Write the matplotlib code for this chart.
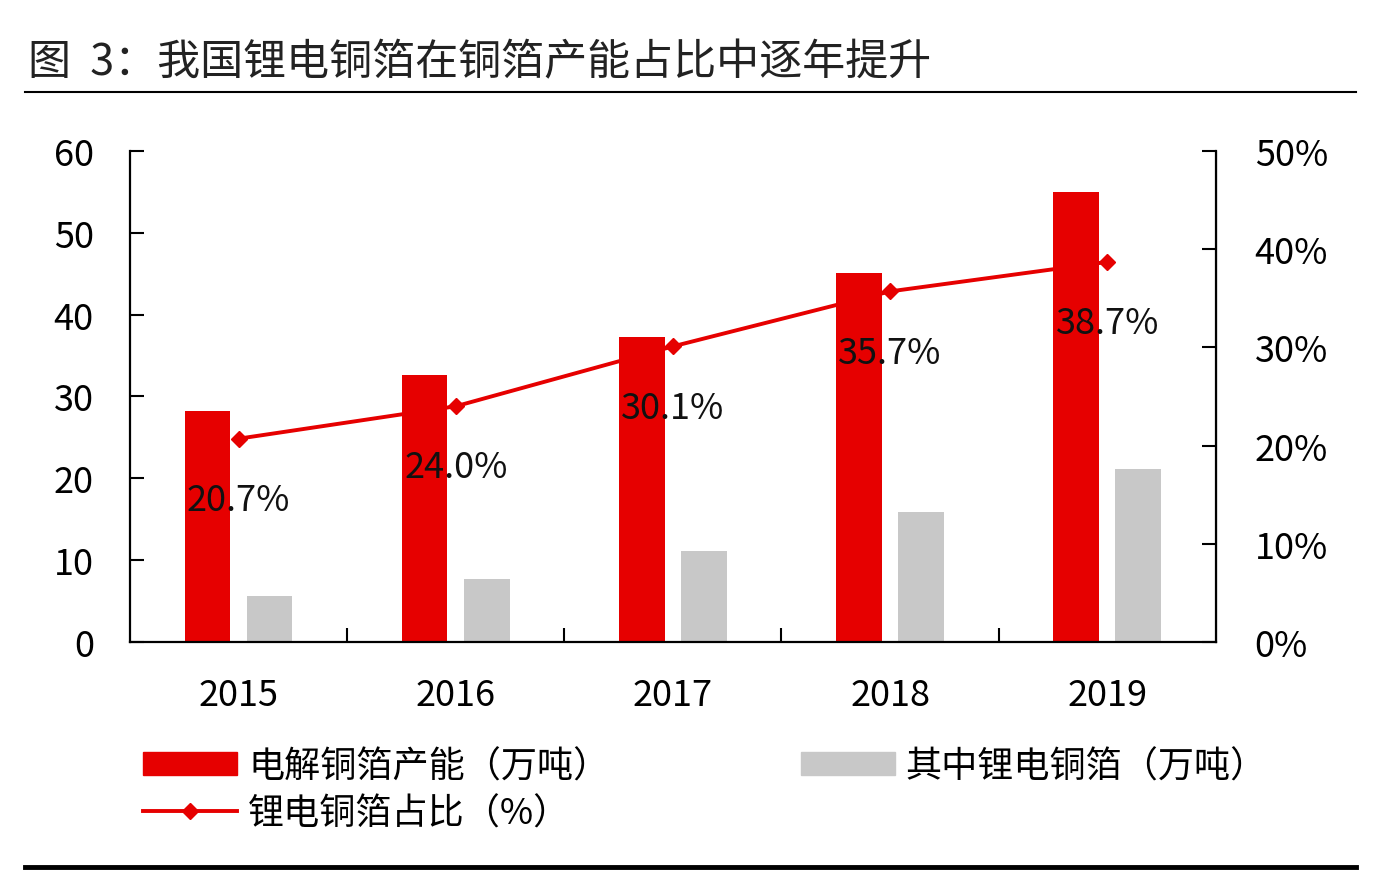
import numpy as np
from matplotlib import pyplot as plt
from matplotlib.lines import Line2D
from matplotlib.patches import Patch
from matplotlib.ticker import PercentFormatter

plt.rcParams['font.family'] = ['Noto Sans CJK SC', 'DejaVu Sans']

years = ['2015', '2016', '2017', '2018', '2019']
capacity = [28.2, 32.6, 37.3, 45.1, 55.0]      # 电解铜箔产能（万吨）
lib_foil = [5.6, 7.7, 11.1, 15.9, 21.1]        # 其中锂电铜箔（万吨）
share = [20.7, 24.0, 30.1, 35.7, 38.7]         # 锂电铜箔占比（%）

red = '#E60000'
gray = '#C8C8C8'

fig = plt.figure(figsize=(13.78, 8.78), dpi=100)
ax = fig.add_axes([0.0943, 0.2677, 0.788, 0.5592])

x = np.arange(len(years))
w = 0.21
ax.bar(x - 0.143, capacity, width=w, color=red, zorder=2)
ax.bar(x + 0.143, lib_foil, width=w, color=gray, zorder=2)

ax.set_xlim(-0.5, 4.5)
ax.set_ylim(0, 60)
ax.set_yticks(range(0, 61, 10))
ax.set_xticks(x, years)
ax.set_xticks(x[:-1] + 0.5, minor=True)
ax.tick_params(axis='x', which='major', length=0, pad=25, labelsize=26)
ax.tick_params(axis='x', which='minor', direction='in', length=10, width=1.5)
ax.tick_params(axis='y', direction='in', length=10, width=1.5, pad=26, labelsize=26)
ax.spines['top'].set_visible(False)
for s in ['left', 'bottom']:
    ax.spines[s].set_linewidth(1.6)

ax2 = ax.twinx()
ax2.plot(x, np.array(share) / 100, color=red, lw=2.8, marker='D', ms=8, zorder=3)
ax2.set_ylim(0, 0.5)
ax2.set_yticks(np.arange(0, 0.51, 0.1))
ax2.yaxis.set_major_formatter(PercentFormatter(1.0, decimals=0))
ax2.tick_params(axis='y', direction='in', length=10, width=1.5, pad=28, labelsize=26)
ax2.spines['top'].set_visible(False)
ax2.spines['right'].set_linewidth(1.6)
ax2.spines['left'].set_visible(False)
ax2.spines['bottom'].set_visible(False)

for xi, v in zip(x, share):
    ax2.annotate(f'{v:.1f}%', (xi, v / 100), xytext=(0, -44), textcoords='offset points',
                 ha='center', va='center', fontsize=26, color='#111111', zorder=4)

# 标题和分隔线
fig.text(0.02, 0.928, '图  3：我国锂电铜箔在铜箔产能占比中逐年提升', fontsize=31,
         color='#222222', ha='left', va='center')
fig.add_artist(Line2D([0.018, 0.984], [0.894, 0.894], color='black', lw=1.5))
fig.add_artist(Line2D([0.018, 0.984], [0.011, 0.011], color='black', lw=3.5))

handles = [Patch(color=red), Line2D([], [], color=red, lw=2.8, marker='D', ms=8),
           Patch(color=gray)]
labels = ['电解铜箔产能（万吨）', '锂电铜箔占比（%）', '其中锂电铜箔（万吨）']
fig.legend(handles, labels, ncol=2, loc='upper left', bbox_to_anchor=(0.091, 0.167),
           frameon=False, fontsize=26, handlelength=2.6, handleheight=0.6,
           columnspacing=5.3, labelspacing=0.3, handletextpad=0.3, borderpad=0)

plt.savefig('out.png')
